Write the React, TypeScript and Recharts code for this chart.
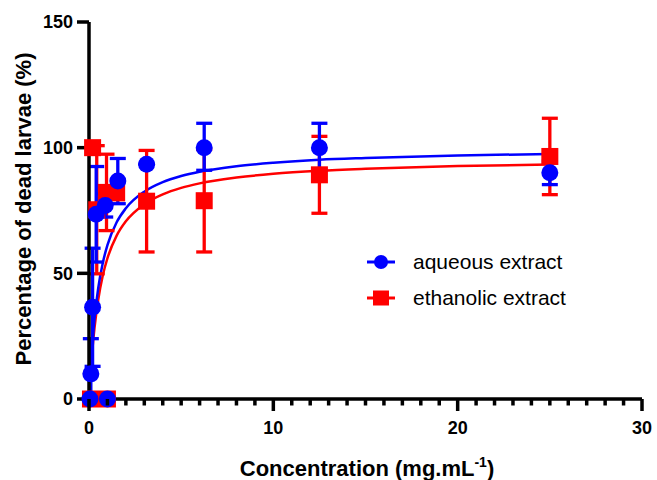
import React from "react";
import { ComposedChart, Line, Scatter, ErrorBar, XAxis, YAxis } from "recharts";

const FONT = '"Liberation Sans", Arial, Helvetica, sans-serif';
const BLUE = "#0000ff";
const RED = "#ff0000";

// measured points: concentration (mg/mL), dead larvae (%), error [down, up]
const aqueousConc = [0.05, 1.0, 0.1, 0.195, 0.39, 0.88, 1.5625, 3.125, 6.25, 12.5, 25];
const aqueousDead = [0, 0, 10, 36.5, 73.5, 77, 86.7, 93.4, 100, 100, 90];
const aqueousErr = [[0, 0], [0, 0], [10, 14], [23.5, 23.5], [19, 19], [4.6, 4.6], [9, 9], [0, 0], [9, 9.7], [9, 9.7], [4.7, 4.7]];

const ethanolicConc = [0.08, 1.0, 0.195, 0.42, 0.95, 1.5, 3.125, 6.25, 12.5, 25];
const ethanolicDead = [0, 0, 100, 75.3, 82.2, 82, 78.7, 78.9, 89.2, 96.5];
const ethanolicErr = [0, 0, 0, 25.5, 15.2, 0, 20.2, 20.4, 15.3, 15.2];

// fitted curves
const fitConc = [0.05, 0.1, 0.2, 0.3, 0.5, 0.75, 1, 1.5, 2, 3, 4, 5, 6, 8, 10, 12.5, 15, 20, 25];
const aqueousFit = [7.3, 13.6, 23.9, 32.1, 44.1, 54.2, 61.2, 70.3, 75.9, 82.5, 86.3, 88.7, 90.4, 92.6, 94.0, 95.2, 95.9, 96.9, 97.5];
const ethanolicFit = [6.3, 11.8, 21.0, 28.4, 39.5, 49.2, 56.0, 65.0, 70.7, 77.5, 81.4, 84.0, 85.8, 88.1, 89.6, 90.8, 91.6, 92.7, 93.3];

const xTicks = [0, 1, 2, 3, 4, 5, 6, 7, 8, 9, 10, 11, 12, 13, 14, 15, 16, 17, 18, 19, 20, 21, 22, 23, 24, 25, 26, 27, 28, 29, 30];
const xLabels = [0, 10, 20, 30];
const yTicks = [0, 50, 100, 150];

const legendItems = [
  { name: "aqueous extract", color: BLUE, shape: "circle" },
  { name: "ethanolic extract", color: RED, shape: "square" },
];

const aqueousPts = aqueousConc.map((x, i) => ({ x, y: aqueousDead[i], err: aqueousErr[i] }));
const ethanolicPts = ethanolicConc.map((x, i) => ({ x, y: ethanolicDead[i], err: ethanolicErr[i] }));
const aqueousCurve = fitConc.map((x, i) => ({ x, y: aqueousFit[i] }));
const ethanolicCurve = fitConc.map((x, i) => ({ x, y: ethanolicFit[i] }));

const Dot = (props: any) => <circle cx={props.cx} cy={props.cy} r={8.5} fill={BLUE} />;
const Square = (props: any) => <rect x={props.cx - 8.5} y={props.cy - 8.5} width={17} height={17} fill={RED} />;

// x axis ticks: every unit is a short tick, labelled every 10
function XTick(props: any) {
  const { x, y, payload } = props;
  const major = xLabels.includes(payload.value);
  return (
    <g>
      <line x1={x} x2={x} y1={y} y2={y + (major ? 12 : 6.5)} stroke="#000" strokeWidth={3.5} />
      {major && (
        <text x={x} y={y + 35} textAnchor="middle" fill="#000" fontSize={18} fontWeight={700} fontFamily={FONT}>
          {payload.value}
        </text>
      )}
    </g>
  );
}

export default function App() {
  return (
    <div style={{ position: "relative", width: 657, height: 480 }}>
      <style>{"body{margin:0}"}</style>
      <ComposedChart width={657} height={480} margin={{ top: 22, right: 15, left: 0, bottom: 0 }}>
        <XAxis
          type="number"
          dataKey="x"
          domain={[0, 30]}
          ticks={xTicks}
          interval={0}
          height={81}
          tickSize={0}
          tickMargin={0}
          tickLine={false}
          tick={<XTick />}
          axisLine={{ stroke: "#000", strokeWidth: 3.5 }}
        />
        <YAxis
          type="number"
          dataKey="y"
          domain={[0, 150]}
          ticks={yTicks}
          width={89}
          tickSize={12}
          tickMargin={4}
          tickLine={{ stroke: "#000", strokeWidth: 3.5 }}
          axisLine={{ stroke: "#000", strokeWidth: 3.5 }}
          tick={{ fill: "#000", fontSize: 18, fontWeight: 700, fontFamily: FONT }}
        />
        <Line data={ethanolicCurve} dataKey="y" type="monotone" stroke={RED} strokeWidth={2.5} dot={false} isAnimationActive={false} />
        <Line data={aqueousCurve} dataKey="y" type="monotone" stroke={BLUE} strokeWidth={2.5} dot={false} isAnimationActive={false} />
        <Scatter data={ethanolicPts} dataKey="y" shape={Square} isAnimationActive={false}>
          <ErrorBar dataKey="err" direction="y" width={8} stroke={RED} strokeWidth={3.3} isAnimationActive={false} />
        </Scatter>
        <Scatter data={aqueousPts} dataKey="y" shape={Dot} isAnimationActive={false}>
          <ErrorBar dataKey="err" direction="y" width={8} stroke={BLUE} strokeWidth={3.3} isAnimationActive={false} />
        </Scatter>
      </ComposedChart>
      <svg width={657} height={480} style={{ position: "absolute", left: 0, top: 0, pointerEvents: "none" }} fontFamily={FONT}>
        <text transform="translate(31,209) rotate(-90)" textAnchor="middle" fontSize={22} fontWeight={700} fill="#000">
          Percentage of dead larvae (%)
        </text>
        <text x={367} y={476} textAnchor="middle" fontSize={22} fontWeight={700} fill="#000">
          Concentration (mg.mL<tspan dy={-9} fontSize={14}>-1</tspan>
          <tspan dy={9}>)</tspan>
        </text>
        {legendItems.map((item, i) => {
          const cy = 262 + i * 36;
          return (
            <g key={item.name}>
              <line x1={367} x2={395} y1={cy} y2={cy} stroke={item.color} strokeWidth={3} />
              {item.shape === "circle" ? (
                <circle cx={381} cy={cy} r={7} fill={item.color} />
              ) : (
                <rect x={373} y={cy - 7.5} width={16} height={15} fill={item.color} />
              )}
              <text x={413} y={cy + 7} fontSize={21} fill="#000">
                {item.name}
              </text>
            </g>
          );
        })}
      </svg>
    </div>
  );
}
